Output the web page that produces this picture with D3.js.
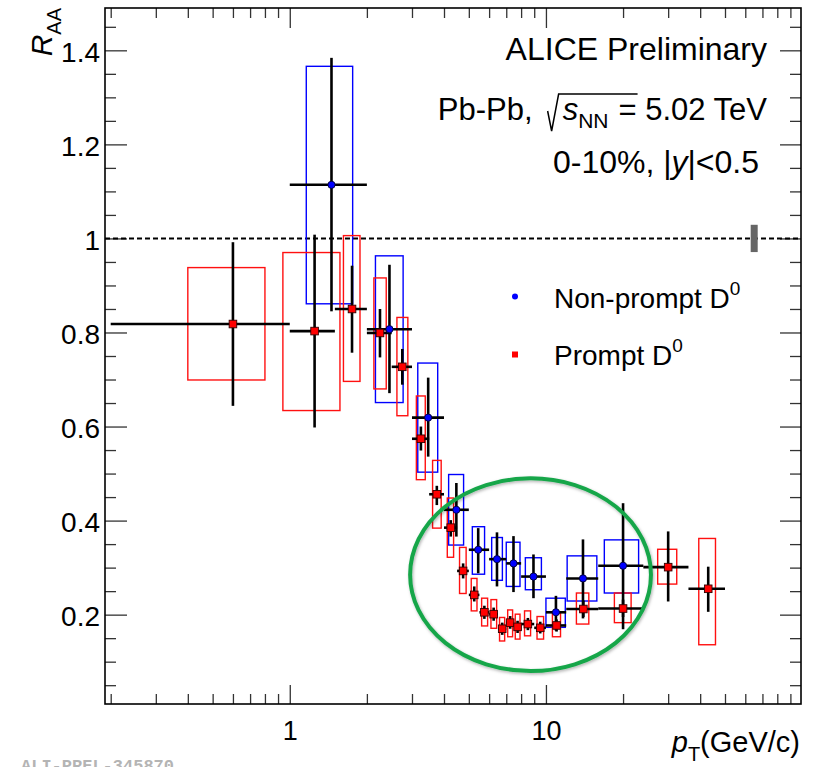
<!DOCTYPE html>
<html>
<head>
<meta charset="utf-8">
<script src="https://cdn.jsdelivr.net/npm/d3@7/dist/d3.min.js"></script>
<style>
body{margin:0;background:#fff}
svg{display:block;font-family:"Liberation Sans",Arial,sans-serif}
</style>
</head>
<body>
<svg width="825" height="767"></svg>
<script>
// prompt D0 (red squares)
const promptPt=[0.6,1.25,1.75,2.25,2.75,3.25,3.75,4.25,4.75,5.25,5.75,6.25,6.75,7.25,7.75,8.5,9.5,11,14,20,30,43]
const promptLo=[0.2,1,1.5,2,2.5,3,3.5,4,4.5,5,5.5,6,6.5,7,7.5,8,9,10,12,16,24,36]
const promptHi=[1,1.5,2,2.5,3,3.5,4,4.5,5,5.5,6,6.5,7,7.5,8,9,10,12,16,24,36,50]
const promptR=[0.818,0.803,0.850,0.799,0.727,0.574,0.456,0.385,0.293,0.242,0.205,0.201,0.170,0.183,0.174,0.180,0.172,0.177,0.212,0.213,0.301,0.255]
const promptStatLo=[0.644,0.598,0.757,0.747,0.689,0.549,0.433,0.366,0.277,0.228,0.191,0.187,0.157,0.170,0.161,0.167,0.160,0.164,0.195,0.195,0.228,0.206]
const promptStatHi=[0.992,1.008,0.942,0.850,0.765,0.600,0.474,0.401,0.309,0.260,0.219,0.215,0.183,0.197,0.187,0.193,0.185,0.190,0.230,0.232,0.377,0.302]
const promptSysLo=[0.699,0.634,0.696,0.680,0.623,0.487,0.384,0.322,0.245,0.208,0.176,0.171,0.144,0.153,0.148,0.155,0.148,0.153,0.180,0.183,0.265,0.136]
const promptSysHi=[0.938,0.970,1.006,0.916,0.832,0.665,0.528,0.448,0.343,0.277,0.235,0.232,0.194,0.210,0.201,0.208,0.196,0.204,0.246,0.246,0.339,0.362]
const promptBoxLo=[0.40,0.94,1.62,2.13,2.62,3.12,3.61,4.12,4.60,5.11,5.61,6.10,6.59,7.09,7.59,8.25,9.23,10.6,13.15,18.5,27.3,39.5]
const promptBoxHi=[0.80,1.57,1.88,2.38,2.89,3.38,3.90,4.36,4.88,5.38,5.92,6.42,6.90,7.41,7.92,8.71,9.79,11.4,14.7,21.5,32.4,45.9]

// non-prompt D0 (blue circles)
const nonpromptPt=[1.455,2.45,3.47,4.47,5.44,6.44,7.47,8.94,10.94,13.95,20]
const nonpromptLo=[1,2,3,4,5,6,7,8,10,12,16]
const nonpromptHi=[2,3,4,5,6,7,8,10,12,16,24]
const nonpromptR=[1.114,0.807,0.619,0.423,0.338,0.318,0.309,0.281,0.205,0.277,0.304]
const nonpromptStatLo=[0.845,0.671,0.536,0.366,0.288,0.260,0.248,0.235,0.166,0.192,0.169]
const nonpromptStatHi=[1.384,0.944,0.704,0.480,0.384,0.375,0.367,0.328,0.240,0.360,0.437]
const nonpromptSysLo=[0.861,0.651,0.503,0.348,0.286,0.273,0.260,0.253,0.173,0.229,0.246]
const nonpromptSysHi=[1.366,0.963,0.735,0.498,0.387,0.364,0.354,0.321,0.235,0.325,0.359]
const nonpromptBoxLo=[1.16,2.16,3.16,4.17,5.16,6.14,7.0,8.31,10.0,12.1,16.9]
const nonpromptBoxHi=[1.76,2.77,3.78,4.77,5.76,6.76,7.92,9.6,11.9,15.8,23.0]

// axis ticks
const yMajor=[0.2,0.4,0.6,0.8,1,1.2,1.4]
const yLabels=["0.2","0.4","0.6","0.8","1","1.2","1.4"]
const yMinor=[0.05,0.1,0.15,0.25,0.3,0.35,0.45,0.5,0.55,0.65,0.7,0.75,0.85,0.9,0.95,1.05,1.1,1.15,1.25,1.3,1.35,1.45]
const xMajor=[1,10]
const xLabels=["1","10"]
const xMinor=[0.2,0.3,0.4,0.5,0.6,0.7,0.8,0.9,2,3,4,5,6,7,8,9,20,30,40,50,60,70,80,90]

// global normalisation uncertainty and the highlighted region
const normPt=65
const normUnc=0.029
const highlight={ptLo:2.95,ptHi:25.7,rLo:0.08,rHi:0.49}

const svg=d3.select("svg")
const L=105,R=801,T=8,B=704
const x=d3.scaleLog().domain([0.19,99]).range([L,R])
const y=d3.scaleLinear().domain([0.01,1.49]).range([B,T])

const rows=(pt,lo,hi,r,sl,sh,yl,yh,bl,bh)=>pt.map((p,i)=>({pt:p,lo:lo[i],hi:hi[i],r:r[i],sl:sl[i],sh:sh[i],yl:yl[i],yh:yh[i],bl:bl[i],bh:bh[i]}))
const prompt=rows(promptPt,promptLo,promptHi,promptR,promptStatLo,promptStatHi,promptSysLo,promptSysHi,promptBoxLo,promptBoxHi)
const nonprompt=rows(nonpromptPt,nonpromptLo,nonpromptHi,nonpromptR,nonpromptStatLo,nonpromptStatHi,nonpromptSysLo,nonpromptSysHi,nonpromptBoxLo,nonpromptBoxHi)

// ticks (d3 axes, pointing inwards)
const tickStyle=(g)=>{
g.select(".domain").remove()
g.selectAll("line").attr("stroke","#333").attr("stroke-width",1.3)
g.selectAll("text").attr("font-size",28).attr("font-family","Liberation Sans, Arial, sans-serif").attr("fill","#000")
}
svg.append("g").attr("transform",`translate(${L},0)`)
.call(d3.axisLeft(y).tickValues(yMajor).tickSize(-22).tickPadding(5).tickFormat((d,i)=>yLabels[i])).call(tickStyle)
.selectAll("text").attr("dy","0.4em")
svg.append("g").attr("transform",`translate(${L},0)`)
.call(d3.axisLeft(y).tickValues(yMinor).tickSize(-11).tickFormat("")).call(tickStyle)
svg.append("g").attr("transform",`translate(${R},0)`)
.call(d3.axisRight(y).tickValues(yMajor).tickSize(-21).tickFormat("")).call(tickStyle)
svg.append("g").attr("transform",`translate(${R},0)`)
.call(d3.axisRight(y).tickValues(yMinor).tickSize(-11).tickFormat("")).call(tickStyle)
svg.append("g").attr("transform",`translate(0,${B})`)
.call(d3.axisBottom(x).tickValues(xMajor).tickSize(-19).tickPadding(17).tickFormat((d,i)=>xLabels[i])).call(tickStyle)
.selectAll("text").attr("font-size",27)
svg.append("g").attr("transform",`translate(0,${B})`)
.call(d3.axisBottom(x).tickValues(xMinor).tickSize(-10).tickFormat("")).call(tickStyle)
svg.append("g").attr("transform",`translate(0,${T})`)
.call(d3.axisTop(x).tickValues(xMajor).tickSize(-20).tickFormat("")).call(tickStyle)
svg.append("g").attr("transform",`translate(0,${T})`)
.call(d3.axisTop(x).tickValues(xMinor).tickSize(-10).tickFormat("")).call(tickStyle)

// frame
svg.append("rect").attr("x",L).attr("y",T).attr("width",R-L).attr("height",B-T)
.attr("fill","none").attr("stroke","#000").attr("stroke-width",1.6)

// R=1 line and normalisation box
svg.append("line").attr("x1",L).attr("x2",R).attr("y1",y(1)).attr("y2",y(1))
.attr("stroke","#000").attr("stroke-width",2).attr("stroke-dasharray","5,3")
svg.append("rect").attr("x",x(normPt)-3.5).attr("width",7)
.attr("y",y(1+normUnc)).attr("height",y(1-normUnc)-y(1+normUnc)).attr("fill","#666")

// systematic boxes
const boxes=(data,col)=>{
svg.append("g").selectAll("rect").data(data).join("rect")
.attr("x",d=>x(d.bl)).attr("width",d=>x(d.bh)-x(d.bl))
.attr("y",d=>y(d.yh)).attr("height",d=>y(d.yl)-y(d.yh))
.attr("fill","none").attr("stroke",col).attr("stroke-width",1.4)
}
boxes(nonprompt,"#0000ff")
boxes(prompt,"#ff1010")

// statistical error bars
const bars=(data)=>{
const g=svg.append("g").attr("stroke","#000").attr("stroke-width",2.6)
g.selectAll(".h").data(data).join("line").attr("x1",d=>x(d.lo)).attr("x2",d=>x(d.hi)).attr("y1",d=>y(d.r)).attr("y2",d=>y(d.r))
g.selectAll(".v").data(data).join("line").attr("x1",d=>x(d.pt)).attr("x2",d=>x(d.pt)).attr("y1",d=>y(d.sl)).attr("y2",d=>y(d.sh))
}
bars(prompt)
bars(nonprompt)

// markers
svg.append("g").selectAll("rect").data(prompt).join("rect")
.attr("x",d=>x(d.pt)-3.8).attr("y",d=>y(d.r)-3.8).attr("width",7.6).attr("height",7.6)
.attr("fill","#ff0000").attr("stroke","#300").attr("stroke-width",0.9)
svg.append("g").selectAll("circle").data(nonprompt).join("circle")
.attr("cx",d=>x(d.pt)).attr("cy",d=>y(d.r)).attr("r",3.6)
.attr("fill","#0000ff").attr("stroke","#003").attr("stroke-width",0.9)

// green ellipse
const defs=svg.append("defs")
defs.append("filter").attr("id","sh").attr("x","-10%").attr("y","-10%").attr("width","120%").attr("height","120%")
.append("feDropShadow").attr("dx",1).attr("dy",1.5).attr("stdDeviation",1.5).attr("flood-color","#000").attr("flood-opacity",0.3)
svg.append("ellipse")
.attr("cx",(x(highlight.ptLo)+x(highlight.ptHi))/2).attr("cy",(y(highlight.rLo)+y(highlight.rHi))/2)
.attr("rx",(x(highlight.ptHi)-x(highlight.ptLo))/2).attr("ry",(y(highlight.rLo)-y(highlight.rHi))/2)
.attr("fill","none").attr("stroke","#17a64a").attr("stroke-width",4).attr("filter","url(#sh)")

// axis titles
const yt=svg.append("text").attr("transform","translate(52,8) rotate(-90)").attr("text-anchor","end")
yt.append("tspan").attr("font-size",30).attr("font-style","italic").text("R")
yt.append("tspan").attr("font-size",20).attr("dy",9).text("AA")
const xt=svg.append("text").attr("x",800).attr("y",752).attr("text-anchor","end")
xt.append("tspan").attr("font-size",29).attr("font-style","italic").text("p")
xt.append("tspan").attr("font-size",20).attr("dy",9).text("T")
xt.append("tspan").attr("font-size",29).attr("dy",-9).text("(GeV/c)")

// header texts
svg.append("text").attr("x",767).attr("y",60).attr("text-anchor","end").attr("font-size",32).text("ALICE Preliminary")
const en=svg.append("text").attr("x",767).attr("y",120).attr("text-anchor","end").attr("font-size",31)
en.append("tspan").text("Pb-Pb,")
en.append("tspan").attr("dx",30).attr("font-style","italic").text("s")
en.append("tspan").attr("font-size",21).attr("dy",8).text("NN")
en.append("tspan").attr("dy",-8).attr("dx",10).text("= 5.02 TeV")
const s0=en.node().getExtentOfChar(6),s1=en.node().getExtentOfChar(9)
const sx=s0.x,ty=94
svg.append("path").attr("d",`M${sx-15},${ty+17} L${sx-11},${ty+37} L${sx-4},${ty} L${s1.x+s1.width+1},${ty}`)
.attr("fill","none").attr("stroke","#000").attr("stroke-width",1.5)
const cen=svg.append("text").attr("x",759).attr("y",173).attr("text-anchor","end").attr("font-size",32)
cen.append("tspan").text("0-10%, |")
cen.append("tspan").attr("font-style","italic").text("y")
cen.append("tspan").text("|<0.5")

// legend
svg.append("circle").attr("cx",515).attr("cy",296.5).attr("r",3).attr("fill","#0000ff")
svg.append("rect").attr("x",512).attr("y",351.5).attr("width",6).attr("height",6).attr("fill","#ff0000")
const l1=svg.append("text").attr("x",554).attr("y",308).attr("font-size",28)
l1.append("tspan").text("Non-prompt D")
l1.append("tspan").attr("font-size",19).attr("dy",-13).text("0")
const l2=svg.append("text").attr("x",554).attr("y",365).attr("font-size",28)
l2.append("tspan").text("Prompt D")
l2.append("tspan").attr("font-size",19).attr("dy",-13).text("0")

// preliminary tag
svg.append("text").attr("x",21).attr("y",771).attr("font-family","Liberation Mono, monospace")
.attr("font-weight","bold").attr("font-size",17).attr("fill","#b4b4b4").text("ALI-PREL-345870")
</script>
</body>
</html>
